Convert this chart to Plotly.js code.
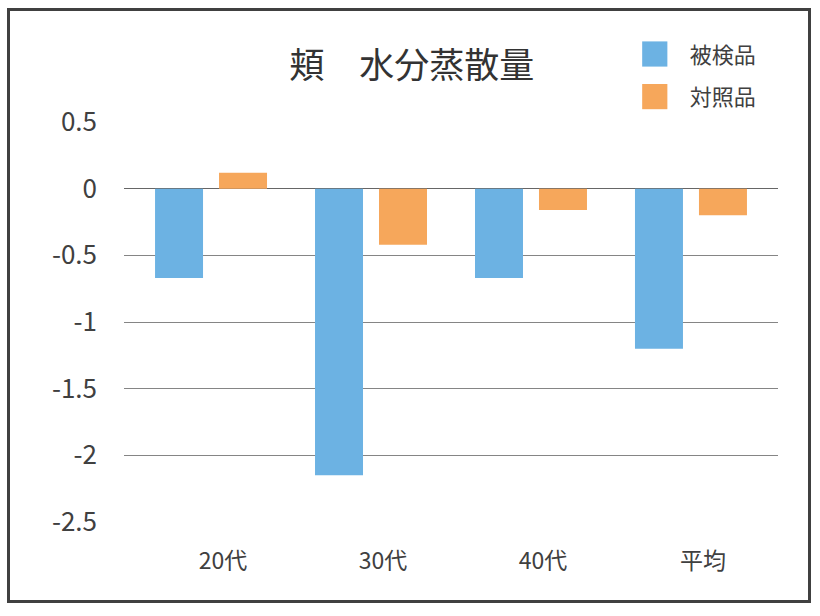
<!DOCTYPE html>
<html>
<head>
<meta charset="utf-8">
<script src="https://cdn.plot.ly/plotly-3.0.1.min.js"></script>
<style>
html,body{margin:0;padding:0;background:#fff;}
#wrap{position:relative;width:820px;height:616px;}
#chart{position:absolute;left:0;top:0;width:820px;height:616px;}
#frame{position:absolute;left:7px;top:8px;width:804px;height:595px;box-sizing:border-box;border:3px solid #404040;pointer-events:none;}
</style>
</head>
<body>
<div id="wrap"><div id="chart"></div><div id="frame"></div></div>
<script>
const categories = ['20代', '30代', '40代', '平均'];
const seriesNames = ['被検品', '対照品'];
const testValues = [-0.67, -2.15, -0.67, -1.2];
const controlValues = [0.12, -0.42, -0.16, -0.2];
const yTickValues = [0.5, 0, -0.5, -1, -1.5, -2, -2.5];
const yTickLabels = ['0.5', '0', '-0.5', '-1', '-1.5', '-2', '-2.5'];
const chartTitle = '頬　水分蒸散量';

const FONT = '"Noto Sans CJK JP", "Noto Sans", sans-serif';

const traces = [
  {type:'bar', name:seriesNames[0], x:categories, y:testValues,
   marker:{color:'#6cb2e3'}, legendgroup:'a'},
  {type:'bar', name:seriesNames[1], x:categories, y:controlValues,
   marker:{color:'#f6a75b'}, legendgroup:'b'}
];

const layout = {
  width:820, height:616,
  margin:{l:124, r:42, t:122, b:94},
  paper_bgcolor:'#ffffff', plot_bgcolor:'#ffffff',
  font:{family:FONT, color:'#404040'},
  barmode:'group', bargap:0.2, bargroupgap:0.25,
  title:{text:chartTitle, font:{family:FONT, size:35, color:'#333333'},
         xref:'container', x:0.502, xanchor:'center',
         yref:'container', y:0.894, yanchor:'middle'},
  xaxis:{type:'category', range:[-0.544, 3.544], showgrid:false, zeroline:false,
         showline:false, ticks:'', tickfont:{size:23, color:'#404040'},
         ticklabelstandoff:23, ticklabelshift:12, fixedrange:true},
  yaxis:{range:[-2.5, 0.5], tickvals:yTickValues, ticktext:yTickLabels,
         showgrid:true, gridcolor:'#858585', gridwidth:1,
         zeroline:true, zerolinecolor:'#666666', zerolinewidth:1,
         showline:false, ticks:'', tickfont:{size:26, color:'#404040'},
         ticklabelstandoff:26, fixedrange:true},
  showlegend:true,
  legend:{x:0.781, xanchor:'left', y:1.222, yanchor:'top',
          font:{size:22, color:'#404040', family:FONT},
          traceorder:'grouped', tracegroupgap:11,
          bgcolor:'rgba(0,0,0,0)'}
};

Plotly.newPlot('chart', traces, layout, {displayModeBar:false, staticPlot:true}).then(function(){
  document.querySelectorAll('.legend .scrollbox').forEach(function(s){
    s.removeAttribute('clip-path');
  });
  document.querySelectorAll('.legend .legendpoints path').forEach(function(p){
    p.setAttribute('transform', 'translate(20,0) scale(2.1)');
  });
  document.querySelectorAll('.legend .legendtext').forEach(function(t){
    t.setAttribute('transform', 'translate(15,0)');
  });
});
</script>
</body>
</html>
